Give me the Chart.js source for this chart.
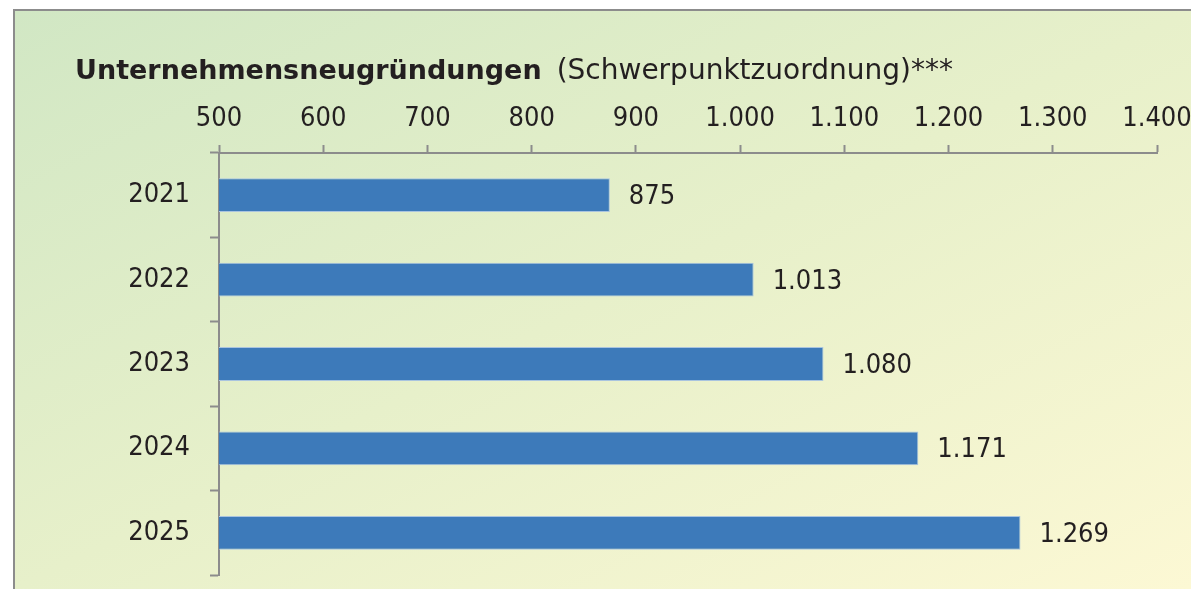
<!DOCTYPE html>
<html lang="de">
<head>
<meta charset="utf-8">
<title>Unternehmensneugründungen</title>
<script src="https://cdn.jsdelivr.net/npm/chart.js@4"></script>
<style>
  html, body { margin: 0; padding: 0; background: #fff; overflow: hidden; width: 1191px; height: 589px; }
  #frame {
    position: absolute; left: 13px; top: 9px; right: 0; bottom: 0;
    border-left: 2px solid #8c8c8c; border-top: 2px solid #8c8c8c;
    background: linear-gradient(to bottom right, #d1e7c4 0%, #e7f0ca 50%, #fcf8d4 100%);
  }
  #wrap { position: absolute; left: 0; top: 0; width: 1191px; height: 589px; }
</style>
</head>
<body>
<div id="frame"></div>
<div id="wrap"><canvas id="chart"></canvas></div>
<script>
// Neugründungen je Jahr
const years = ['2021', '2022', '2023', '2024', '2025'];
const founded = [875, 1013, 1080, 1171, 1269];
const axisMin = 500;
const axisMax = 1400;
const axisStep = 100;

const FONT = '"DejaVu Sans Condensed", "DejaVu Sans", sans-serif';
const TITLE_FONT = '"DejaVu Sans", sans-serif';
const TEXT = '#231f20';
const AXIS = '#8c8c8c';

const fmt = new Intl.NumberFormat('de-DE');

// Title: bold part + regular part on one line
const titlePlugin = {
    id: 'mixedTitle',
    afterDraw(chart) {
        const ctx = chart.ctx;
        ctx.save();
        ctx.fillStyle = TEXT;
        ctx.textBaseline = 'alphabetic';
        ctx.font = 'bold 27px ' + TITLE_FONT;
        ctx.fillText('Unternehmensneugründungen', 75, 79);
        const w = ctx.measureText('Unternehmensneugründungen').width;
        ctx.font = '28px ' + TITLE_FONT;
        ctx.fillText('(Schwerpunktzuordnung)***', 75 + w + 15, 79);
        ctx.restore();
    }
};

// Value labels right of each bar
const valuePlugin = {
    id: 'valueLabels',
    afterDatasetsDraw(chart) {
        const ctx = chart.ctx;
        const meta = chart.getDatasetMeta(0);
        ctx.save();
        ctx.fillStyle = TEXT;
        ctx.font = '27px ' + FONT;
        ctx.textAlign = 'left';
        ctx.textBaseline = 'middle';
        meta.data.forEach((bar, i) => {
            ctx.fillText(fmt.format(founded[i]), bar.x + 19, bar.y + 2);
        });
        ctx.restore();
    }
};

new Chart(document.getElementById('chart'), {
    type: 'bar',
    data: {
        labels: years,
        datasets: [{
            data: founded,
            backgroundColor: '#3d7aba',
            borderColor: '#a9c4df',
            borderWidth: 1,
            borderSkipped: 'start',
            categoryPercentage: 1,
            barPercentage: 0.4
        }]
    },
    options: {
        indexAxis: 'y',
        locale: 'de-DE',
        responsive: true,
        maintainAspectRatio: false,
        animation: false,
        layout: { padding: { top: 90, right: 34, bottom: 14, left: 0 } },
        plugins: {
            legend: { display: false },
            tooltip: { enabled: false }
        },
        scales: {
            x: {
                position: 'top',
                min: axisMin,
                max: axisMax,
                ticks: {
                    stepSize: axisStep,
                    color: TEXT,
                    font: { family: FONT, size: 27 },
                    padding: 10,
                    maxRotation: 0,
                    autoSkip: false,
                    callback: v => fmt.format(v)
                },
                grid: {
                    drawOnChartArea: false,
                    drawTicks: true,
                    tickLength: 8,
                    tickColor: AXIS,
                    tickWidth: 2
                },
                border: { display: true, color: AXIS, width: 2 },
                afterFit(scale) {
                    scale.height = 63;
                    scale.paddingLeft = 0;
                    scale.paddingRight = 0;
                }
            },
            y: {
                ticks: {
                    color: TEXT,
                    font: { family: FONT, size: 27 },
                    padding: 20
                },
                grid: {
                    offset: true,
                    drawOnChartArea: false,
                    tickLength: 9,
                    tickColor: AXIS,
                    tickWidth: 2
                },
                border: { display: true, color: AXIS, width: 2 },
                afterFit(scale) {
                    scale.width = 219;
                    scale.paddingTop = 0;
                    scale.paddingBottom = 0;
                }
            }
        }
    },
    plugins: [titlePlugin, valuePlugin]
});
</script>
</body>
</html>
